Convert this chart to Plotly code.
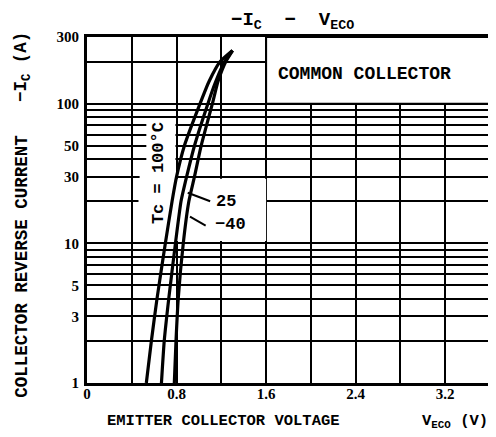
import plotly.graph_objects as go

# ---- data ----
current = [1, 2, 4, 10, 20, 30, 50, 100, 144, 200, 240]
v_100 = [0.53, 0.575, 0.625, 0.70, 0.76, 0.80, 0.87, 1.01, 1.09, 1.19, 1.30]
v_25 = [0.665, 0.69, 0.73, 0.79, 0.84, 0.89, 0.96, 1.08, 1.15, 1.23, 1.30]
v_m40 = [0.78, 0.795, 0.815, 0.86, 0.91, 0.96, 1.02, 1.12, 1.17, 1.24, 1.30]

x_grid = [0.4, 0.8, 1.2, 1.6, 2.0, 2.4, 2.8, 3.2]
x_tick_labels = {0.0: "0", 0.8: "0.8", 1.6: "1.6", 2.4: "2.4", 3.2: "3.2"}
y_grid = [1, 2, 3, 4, 5, 6, 7, 8, 9, 10, 20, 30, 40, 50, 60, 70, 80, 90, 100, 200, 300]
y_tick_labels = {1: "1", 3: "3", 5: "5", 10: "10", 30: "30", 50: "50", 100: "100", 300: "300"}

MONO = "Liberation Mono"
SERIF = "Liberation Serif"

fig = go.Figure()
for v in (v_100, v_25, v_m40):
    fig.add_trace(go.Scatter(x=v, y=current, mode="lines",
                             line=dict(color="black", width=3.2, shape="spline", smoothing=0.5),
                             hoverinfo="skip", showlegend=False))

# leader lines for the labels
fig.add_trace(go.Scatter(x=[0.90, 1.10], y=[23, 20], mode="lines",
                         line=dict(color="black", width=2), showlegend=False, hoverinfo="skip"))
fig.add_trace(go.Scatter(x=[0.92, 1.06], y=[15.5, 13.4], mode="lines",
                         line=dict(color="black", width=2), showlegend=False, hoverinfo="skip"))

xt = [0.0] + x_grid
fig.update_xaxes(range=[0, 3.6], tickmode="array", tickvals=xt,
                 ticktext=[x_tick_labels.get(round(v, 1), "") for v in xt],
                 showgrid=True, gridcolor="black", gridwidth=1.8,
                 showline=True, linecolor="black", linewidth=3, mirror=True,
                 ticks="", zeroline=False, automargin=False, ticklabelstandoff=-5,
                 tickfont=dict(family=SERIF, size=15, color="black", weight="bold"))
fig.update_yaxes(type="log", range=[0, 2.4771], tickmode="array", tickvals=y_grid,
                 ticktext=[y_tick_labels.get(v, "") for v in y_grid],
                 showgrid=True, gridcolor="black", gridwidth=1.8,
                 showline=True, linecolor="black", linewidth=3, mirror=True,
                 ticks="", zeroline=False, automargin=False, ticklabelstandoff=2,
                 tickfont=dict(family=SERIF, size=15, color="black", weight="bold"))

# blank areas of the chart paper
blank = [(0.53, 0.79, 31, 76), (0.46, 1.6, 10.4, 29), (0.47, 0.79, 27, 33)]
for x0, x1, y0, y1 in blank:
    fig.add_shape(type="rect", x0=x0, x1=x1, y0=y0, y1=y1, layer="between",
                  fillcolor="white", line=dict(width=0))
fig.add_shape(type="rect", x0=1.6, x1=3.6, y0=100, y1=300, layer="between",
              fillcolor="white", line=dict(color="black", width=2))

def f(size):
    return dict(family=MONO, size=size, color="black", weight="bold")

fig.add_annotation(x=2.48, y=2.214, xref="x", yref="y", text="COMMON COLLECTOR",
                   showarrow=False, font=f(18))
fig.add_annotation(x=0.64, y=1.50, xref="x", yref="y", text="Tc = 100°C", textangle=-90,
                   showarrow=False, font=f(17))
fig.add_annotation(x=1.24, y=1.30, xref="x", yref="y", text="25", showarrow=False, font=f(17))
fig.add_annotation(x=1.28, y=1.137, xref="x", yref="y", text="−40", showarrow=False, font=f(17))

# titles
fig.add_annotation(x=0.51, y=1.0, xref="paper", yref="paper", yshift=16, yanchor="middle",
                   text="−I<sub>C</sub>&nbsp;&nbsp;−&nbsp;&nbsp;V<sub>ECO</sub>",
                   showarrow=False, font=f(19))
fig.add_annotation(x=0.045, y=0.0, xref="paper", yref="paper", yshift=-38, xanchor="left",
                   yanchor="middle", text="EMITTER COLLECTOR VOLTAGE", showarrow=False, font=f(15.5))
fig.add_annotation(x=1.0, y=0.0, xref="paper", yref="paper", yshift=-38, xanchor="right",
                   yanchor="middle", text="V<sub>ECO</sub> (V)", showarrow=False, font=f(15.5))
fig.add_annotation(x=0.0, y=-0.05, xref="paper", yref="paper", xshift=-65, yanchor="bottom",
                   xanchor="center", text="COLLECTOR REVERSE CURRENT", textangle=-90,
                   showarrow=False, font=f(17.5))
fig.add_annotation(x=0.0, y=1.02, xref="paper", yref="paper", xshift=-65, yanchor="top",
                   xanchor="center", text="−I<sub>C</sub> (A)", textangle=-90,
                   showarrow=False, font=f(17.5))

# the page body adds an 8 px offset, so the figure is 8 px smaller than the window
fig.update_layout(width=488, height=429,
                  margin=dict(l=79, r=6, t=29, b=54, autoexpand=False),
                  paper_bgcolor="white", plot_bgcolor="white", showlegend=False)
fig.write_html("out.html")
